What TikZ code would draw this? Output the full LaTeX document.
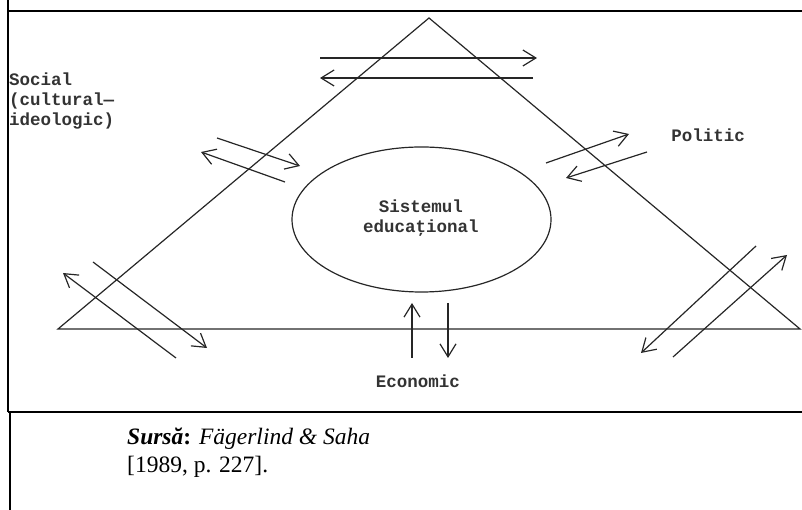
\documentclass[tikz,border=0pt]{standalone}
\usepackage{fontspec}
\setmainfont{Liberation Serif}
\newfontfamily\labfont{Liberation Mono}
\usetikzlibrary{arrows.meta,shapes.geometric}
\begin{document}
\begin{tikzpicture}[x=1pt,y=1pt,
  frame/.style={line width=1.6pt,black},
  edge/.style={line width=1.2pt,black!85},
  arr/.style={line width=1.2pt,black!85,-{Straight Barb[length=13pt,width=16pt,line width=1.2pt]}},
  lab/.style={font=\labfont\bfseries\fontsize{17.5}{20}\selectfont,inner sep=0pt,text=black!80},
  captext/.style={font=\fontsize{23.5}{28}\selectfont,inner sep=0pt,align=left,anchor=west}]
\useasboundingbox (0,0) rectangle (802,510);
% frame
\draw[frame] (9,499) -- (802,499);
\draw[line width=1.2pt] (8,510) -- (8,98);
\draw[frame] (8,98) -- (802,98);
\draw[line width=1.2pt] (10,98) -- (10,0);
% triangle
\coordinate (A) at (429,492);
\coordinate (B) at (58,181);
\coordinate (C) at (800,181);
\draw[edge] (A) -- (B) -- (C) -- cycle;
% ellipse
\node[draw,edge,ellipse,minimum width=259pt,minimum height=145pt,inner sep=0pt] (sys) at (421.5,290.5) {};
\node[lab,align=center] (systxt) at (421,291.5) {Sistemul\\educaţional};
% labels
\node[lab,align=left,anchor=west] (soc) at (9,409) {Social\\(cultural—\\ideologic)};
\node[lab] (pol) at (708,375) {Politic};
\node[lab] (eco) at (418,129) {Economic};
% caption
\node[captext] (src) at (127,71) {\textbf{\textit{Sursă}:} \textit{Fägerlind \& Saha}};
\node[captext] (yr) at (127,43) {[1989, p. 227].};
% arrow end points
\coordinate (t1a) at (320,452); \coordinate (t1b) at (537,452);
\coordinate (t2a) at (533,432); \coordinate (t2b) at (320,432);
\coordinate (u1a) at (217,372); \coordinate (u1b) at (300,344);
\coordinate (u2a) at (285,328); \coordinate (u2b) at (201,358);
\coordinate (p1a) at (546,347); \coordinate (p1b) at (629,376);
\coordinate (p2a) at (647,358); \coordinate (p2b) at (566,332);
\coordinate (l1a) at (176,152); \coordinate (l1b) at (63,237);
\coordinate (l2a) at (93,248);  \coordinate (l2b) at (207,162);
\coordinate (r1a) at (756,264); \coordinate (r1b) at (641,157);
\coordinate (r2a) at (673,153); \coordinate (r2b) at (787,255);
\coordinate (e1a) at (412,152); \coordinate (e1b) at (412,207);
\coordinate (e2a) at (448,207); \coordinate (e2b) at (448,152);
\foreach \s in {t1,t2,u1,u2,p1,p2,l1,l2,r1,r2,e1,e2}
  \draw[arr] (\s a) -- (\s b);
\end{tikzpicture}
\end{document}
